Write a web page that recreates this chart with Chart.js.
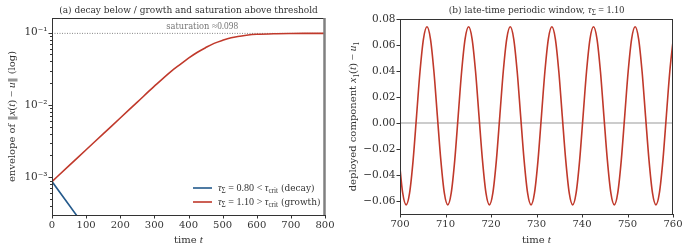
<!DOCTYPE html>
<html>
<head>
<meta charset="utf-8">
<script src="https://cdn.jsdelivr.net/npm/chart.js@4.4.1/dist/chart.umd.min.js"></script>
<style>
  html, body { margin: 0; padding: 0; background: #fff; }
  #wrap { position: relative; width: 689px; height: 250px; }
  canvas { position: absolute; top: 0; }
  #left { left: 0; }
  #right { left: 345px; }
</style>
</head>
<body>
<div id="wrap">
  <canvas id="left" width="345" height="250"></canvas>
  <canvas id="right" width="344" height="250"></canvas>
</div>
<script>
// panel (a): envelope of ||x(t) - u|| on a log axis
const timesA = [0, 50, 100, 150, 200, 250, 300, 350, 375, 400, 425, 450, 475, 500, 525, 550, 575, 600, 650, 700, 750, 800];
const growthA = [8.71e-4, 1.445e-3, 2.40e-3, 3.98e-3, 6.61e-3, 1.096e-2, 1.82e-2, 2.95e-2, 3.63e-2, 4.45e-2,
  5.33e-2, 6.21e-2, 7.13e-2, 7.87e-2, 8.53e-2, 8.95e-2, 9.31e-2, 9.51e-2, 9.70e-2, 9.77e-2, 9.79e-2, 9.80e-2];
const decayTimes = [0, 50, 100, 150];
const decayA = [8.71e-4, 4.12e-4, 1.95e-4, 9.2e-5];
const saturation = 0.098;
const xTicksA = [0, 100, 200, 300, 400, 500, 600, 700, 800];
const yMajorsA = [1e-3, 1e-2, 1e-1];
const yLabelsA = ['10\u207B\u00B3', '10\u207B\u00B2', '10\u207B\u00B9'];

// panel (b): late-time periodic window
const timesB = [699.83, 700.59,
  701.35, 702.11, 702.88, 703.64, 704.40, 705.16, 705.93, 706.69, 707.45, 708.21, 708.98, 709.74,
  710.50, 711.26, 712.03, 712.79, 713.55, 714.31, 715.08, 715.84, 716.60, 717.36, 718.13, 718.89,
  719.65, 720.41, 721.18, 721.94, 722.70, 723.46, 724.23, 724.99, 725.75, 726.51, 727.28, 728.04,
  728.80, 729.56, 730.33, 731.09, 731.85, 732.61, 733.38, 734.14, 734.90, 735.66, 736.43, 737.19,
  737.95, 738.71, 739.48, 740.24, 741.00, 741.76, 742.53, 743.29, 744.05, 744.81, 745.58, 746.34,
  747.10, 747.86, 748.63, 749.39, 750.15, 750.91, 751.68, 752.44, 753.20, 753.96, 754.73, 755.49,
  756.25, 757.01, 757.78, 758.54, 759.30, 760.06];
const valuesB = [-0.0288, -0.0538,
  -0.063, -0.0538, -0.0288, 0.0055, 0.0398, 0.0648, 0.074, 0.0648, 0.0398, 0.0055, -0.0288, -0.0538,
  -0.063, -0.0538, -0.0288, 0.0055, 0.0398, 0.0648, 0.074, 0.0648, 0.0398, 0.0055, -0.0288, -0.0538,
  -0.063, -0.0538, -0.0288, 0.0055, 0.0398, 0.0648, 0.074, 0.0648, 0.0398, 0.0055, -0.0288, -0.0538,
  -0.063, -0.0538, -0.0288, 0.0055, 0.0398, 0.0648, 0.074, 0.0648, 0.0398, 0.0055, -0.0288, -0.0538,
  -0.063, -0.0538, -0.0288, 0.0055, 0.0398, 0.0648, 0.074, 0.0648, 0.0398, 0.0055, -0.0288, -0.0538,
  -0.063, -0.0538, -0.0288, 0.0055, 0.0398, 0.0648, 0.074, 0.0648, 0.0398, 0.0055, -0.0288, -0.0538,
  -0.063, -0.0538, -0.0288, 0.0055, 0.0398, 0.0648];
const xTicksB = [700, 710, 720, 730, 740, 750, 760];
const yTicksB = [-0.06, -0.04, -0.02, 0.00, 0.02, 0.04, 0.06, 0.08];

const RED = '#c0392b';
const BLUE = '#245a8c';
const INK = '#333';
const TXT = 'DejaVu Serif';
const MATH = 'Liberation Serif';

function pts(xs, ys) {
  return xs.map((x, i) => ({ x: x, y: ys[i] }));
}

// rich text: parts are [text, style]; '' text font, 'm' math upright, 'i' math italic, 's' subscript
function fontFor(st, size) {
  if (st === 'i') return `italic ${size * 1.12}px "${MATH}"`;
  if (st === 'm') return `${size * 1.12}px "${MATH}"`;
  if (st === 's') return `${size * 0.8}px "${MATH}"`;
  return `${size}px "${TXT}"`;
}
function richWidth(ctx, parts, size) {
  let w = 0;
  parts.forEach(([t, st]) => { ctx.font = fontFor(st, size); w += ctx.measureText(t).width; });
  return w;
}
function drawRich(ctx, parts, x, y, size, color, align) {
  let cx = align === 'left' ? x : x - richWidth(ctx, parts, size) / 2;
  ctx.fillStyle = color;
  ctx.textBaseline = 'alphabetic';
  ctx.textAlign = 'left';
  parts.forEach(([t, st]) => {
    ctx.font = fontFor(st, size);
    ctx.fillText(t, cx, st === 's' ? y + size * 0.25 : y);
    cx += ctx.measureText(t).width;
  });
}

const decoPlugin = {
  id: 'deco',
  afterDraw(chart, args, opts) {
    const ctx = chart.ctx;
    const a = chart.chartArea;
    const xs = chart.scales.x, ys = chart.scales.y;
    ctx.save();
    // frame
    ctx.strokeStyle = INK;
    ctx.lineWidth = 1;
    ctx.strokeRect(Math.round(a.left) + 0.5, Math.round(a.top) + 0.5, Math.round(a.right - a.left) - 1, Math.round(a.bottom - a.top));
    if (opts.thickRight) {
      ctx.strokeStyle = '#808080';
      ctx.lineWidth = 2.5;
      ctx.beginPath();
      ctx.moveTo(a.right - 0.5, a.top);
      ctx.lineTo(a.right - 0.5, a.bottom);
      ctx.stroke();
    }
    // tick marks
    ctx.strokeStyle = INK;
    ctx.lineWidth = 1;
    ctx.beginPath();
    xs.ticks.forEach(t => {
      const px = Math.round(xs.getPixelForValue(t.value)) + 0.5;
      ctx.moveTo(px, a.bottom);
      ctx.lineTo(px, a.bottom + 3.5);
    });
    ys.ticks.forEach(t => {
      const py = Math.round(ys.getPixelForValue(t.value)) + 0.5;
      ctx.moveTo(a.left, py);
      ctx.lineTo(a.left - 3.5, py);
    });
    (opts.minors || []).forEach(v => {
      const py = Math.round(ys.getPixelForValue(v)) + 0.5;
      if (py < a.top || py > a.bottom) return;
      ctx.moveTo(a.left, py);
      ctx.lineTo(a.left - 2, py);
    });
    ctx.stroke();
    // titles
    const cx = (a.left + a.right) / 2;
    drawRich(ctx, opts.title, cx, 13, 9, INK, 'center');
    drawRich(ctx, opts.xTitle, cx, 243, 10, INK, 'center');
    ctx.save();
    ctx.translate(opts.yTitleX, (a.top + a.bottom) / 2);
    ctx.rotate(-Math.PI / 2);
    drawRich(ctx, opts.yTitle, 0, 0, 10, INK, 'center');
    ctx.restore();
    if (opts.extra) opts.extra(chart, ctx);
    ctx.restore();
  }
};

function axisX(min, max, ticks, h) {
  return {
    type: 'linear', min: min, max: max,
    afterBuildTicks: s => { s.ticks = ticks.map(v => ({ value: v })); },
    afterFit: s => { s.height = h; },
    grid: { drawOnChartArea: false, tickLength: 3.5, tickColor: 'transparent' },
    border: { display: false },
    ticks: { color: INK, font: { family: TXT, size: 10 }, padding: 1, maxRotation: 0 }
  };
}

const minorsA = [];
[1e-4, 1e-3, 1e-2].forEach(d => { for (let k = 2; k <= 9; k++) minorsA.push(d * k); });

new Chart(document.getElementById('left'), {
  type: 'line',
  data: {
    datasets: [
      { data: pts(timesA, growthA), borderColor: RED, borderWidth: 1.6, pointRadius: 0, cubicInterpolationMode: 'monotone', clip: 0, order: 1 },
      { data: pts(decayTimes, decayA), borderColor: BLUE, borderWidth: 1.6, pointRadius: 0, clip: 0, order: 2 },
      { data: pts([0, 800], [saturation, saturation]), borderColor: '#777', borderWidth: 0.9, borderDash: [1, 1.5], pointRadius: 0, clip: 0, order: 3 }
    ]
  },
  options: {
    responsive: false, animation: false,
    layout: { padding: { left: 0, right: 20, top: 18, bottom: 0 } },
    plugins: {
      legend: { display: false }, tooltip: { enabled: false },
      deco: {
        thickRight: true,
        minors: minorsA,
        title: [['(a) decay below / growth and saturation above threshold', '']],
        xTitle: [['time ', ''], ['t', 'i']],
        yTitle: [['envelope of ', ''], ['\u2016', ''], ['x', 'i'], ['(', 'm'], ['t', 'i'], [')', 'm'], [' \u2212 ', 'm'], ['u', 'i'], ['\u2016', ''], [' (log)', '']],
        yTitleX: 15,
        extra(chart, ctx) {
          const xs = chart.scales.x, ys = chart.scales.y;
          drawRich(ctx, [['saturation ', ''], ['\u2248', 'm'], ['0.098', 'm']], xs.getPixelForValue(440), ys.getPixelForValue(saturation) - 4, 8.3, '#777', 'center');
          const rows = [
            [BLUE, [['\u03C4', 'i'], ['\u03A3', 's'], [' = 0.80 < ', 'm'], ['\u03C4', 'i'], ['crit', 's'], [' (decay)', '']]],
            [RED, [['\u03C4', 'i'], ['\u03A3', 's'], [' = 1.10 > ', 'm'], ['\u03C4', 'i'], ['crit', 's'], [' (growth)', '']]]
          ];
          rows.forEach(([c, parts], i) => {
            const y = 188 + i * 14;
            ctx.strokeStyle = c;
            ctx.lineWidth = 1.6;
            ctx.beginPath();
            ctx.moveTo(193, y);
            ctx.lineTo(212, y);
            ctx.stroke();
            drawRich(ctx, parts, 218, y + 3, 9, INK, 'left');
          });
        }
      }
    },
    scales: {
      x: axisX(0, 800, xTicksA, 35),
      y: {
        type: 'logarithmic', min: 3e-4, max: 0.16,
        afterBuildTicks: s => { s.ticks = yMajorsA.map(v => ({ value: v })); },
        afterFit: s => { s.width = 52; },
        grid: { drawOnChartArea: false, tickLength: 3.5, tickColor: 'transparent' },
        border: { display: false },
        ticks: { color: INK, font: { family: TXT, size: 10.5 }, padding: 1, callback: v => yLabelsA[yMajorsA.indexOf(v)] }
      }
    }
  },
  plugins: [decoPlugin]
});

new Chart(document.getElementById('right'), {
  type: 'line',
  data: {
    datasets: [
      { data: pts(timesB, valuesB), borderColor: RED, borderWidth: 1.6, pointRadius: 0, cubicInterpolationMode: 'monotone', clip: 0, order: 1 },
      { data: pts([700, 760], [0, 0]), borderColor: '#999', borderWidth: 1, pointRadius: 0, clip: 0, order: 2 }
    ]
  },
  options: {
    responsive: false, animation: false,
    layout: { padding: { left: 0, right: 16, top: 19, bottom: 0 } },
    plugins: {
      legend: { display: false }, tooltip: { enabled: false },
      deco: {
        title: [['(b) late-time periodic window, ', ''], ['\u03C4', 'i'], ['\u03A3', 's'], [' = 1.10', 'm']],
        xTitle: [['time ', ''], ['t', 'i']],
        yTitle: [['deployed component ', ''], ['x', 'i'], ['1', 's'], ['(', 'm'], ['t', 'i'], [')', 'm'], [' \u2212 ', 'm'], ['u', 'i'], ['1', 's']],
        yTitleX: 11
      }
    },
    scales: {
      x: axisX(700, 760, xTicksB, 36),
      y: {
        type: 'linear', min: -0.07, max: 0.08,
        afterBuildTicks: s => { s.ticks = yTicksB.map(v => ({ value: v })); },
        afterFit: s => { s.width = 55; },
        grid: { drawOnChartArea: false, tickLength: 3.5, tickColor: 'transparent' },
        border: { display: false },
        ticks: { color: INK, font: { family: TXT, size: 10.5 }, padding: 1, callback: v => v.toFixed(2).replace('-', '\u2212') }
      }
    }
  },
  plugins: [decoPlugin]
});
</script>
</body>
</html>
